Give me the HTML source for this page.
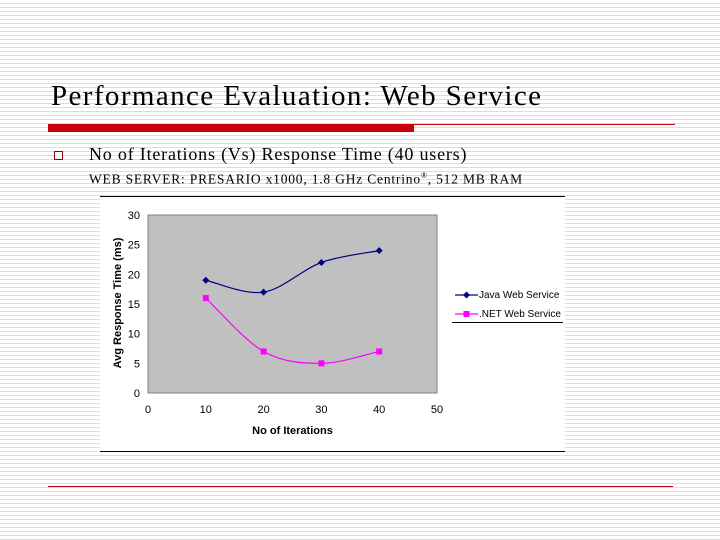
<!DOCTYPE html>
<html><head><meta charset="utf-8">
<style>
html,body{margin:0;padding:0}
body{width:720px;height:540px;position:relative;overflow:hidden;
background:repeating-linear-gradient(to bottom,#ffffff 0px,#ffffff 3px,#dcdcdc 3px,#dcdcdc 4px);
font-family:"Liberation Serif",serif;}
.abs{position:absolute}
</style></head><body>
<div class="abs" style="left:51px;top:80px;font-size:29px;letter-spacing:1.4px;color:#000;white-space:nowrap">Performance Evaluation: Web Service</div>
<div class="abs" style="left:48px;top:124px;width:366px;height:8px;background:#c8000a"></div>
<div class="abs" style="left:414px;top:124px;width:261px;height:1px;background:#c8000a"></div>
<div class="abs" style="left:54px;top:151px;width:7px;height:7px;border:1px solid #8b0000;background:#fff"></div>
<div class="abs" style="left:89px;top:144px;font-size:18px;letter-spacing:0.8px;white-space:nowrap">No of Iterations (Vs) Response Time (40 users)</div>
<div class="abs" style="left:89px;top:171px;font-size:13.5px;letter-spacing:0.8px;white-space:nowrap">WEB SERVER: PRESARIO x1000, 1.8 GHz Centrino<sup style="font-size:8px">®</sup>, 512 MB RAM</div>
<div class="abs" style="left:48px;top:486px;width:625px;height:1px;background:#c8000a"></div>

<svg class="abs" style="left:0;top:0" width="720" height="540" id="chart" font-family="Liberation Sans, sans-serif"></svg>
<script>
const categories=[10,20,30,40];
const javaValues=[19,17,22,24];
const netValues=[16,7,5,7];
const yTicks=[0,5,10,15,20,25,30];
const xTicks=[0,10,20,30,40,50];
const seriesNames=["Java Web Service",".NET Web Service"];
const NS="http://www.w3.org/2000/svg";
const svg=document.getElementById('chart');
const X0=148,X1=437,Y0=393,Y1=215;
function xs(v){return X0+(v-0)/(50-0)*(X1-X0);}
function ys(v){return Y0-(v-0)/(30-0)*(Y0-Y1);}
function mk(t,a){const e=document.createElementNS(NS,t);for(const k in a)e.setAttribute(k,a[k]);svg.appendChild(e);return e;}
let e;
e=mk('rect',{x:100,y:196,width:465,height:255,fill:'#fff'});


e=mk('line',{x1:100,y1:196.5,x2:565,y2:196.5,stroke:'#000'});


e=mk('line',{x1:100,y1:451.5,x2:565,y2:451.5,stroke:'#000'});


e=mk('rect',{x:X0,y:Y1,width:X1-X0,height:Y0-Y1,fill:'#c0c0c0',stroke:'#808080'});


yTicks.forEach(t=>{
 const el=mk('text',{x:X0-8,y:ys(t)+4,'text-anchor':'end','font-size':11,fill:'#000'});
 el.textContent=t;
 
 
});
xTicks.forEach(t=>{
 const el=mk('text',{x:xs(t),y:Y0+20,'text-anchor':'middle','font-size':11,fill:'#000'});
 el.textContent=t;
 
 
});
e=mk('text',{x:(X0+X1)/2,y:434,'text-anchor':'middle','font-size':11,'font-weight':'bold',fill:'#000'});
e.textContent='No of Iterations';


e=mk('text',{x:0,y:0,'text-anchor':'middle','font-size':11,'font-weight':'bold',fill:'#000',transform:`translate(121,${(Y0+Y1)/2-1}) rotate(-90)`});
e.textContent='Avg Response Time (ms)';


function smooth(pts){
 let d=`M${pts[0][0]},${pts[0][1]}`;
 for(let i=0;i<pts.length-1;i++){
  const p0=pts[i-1]||pts[i],p1=pts[i],p2=pts[i+1],p3=pts[i+2]||p2;
  const c1=[p1[0]+(p2[0]-p0[0])/6,p1[1]+(p2[1]-p0[1])/6];
  const c2=[p2[0]-(p3[0]-p1[0])/6,p2[1]-(p3[1]-p1[1])/6];
  d+=` C${c1[0]},${c1[1]} ${c2[0]},${c2[1]} ${p2[0]},${p2[1]}`;
 }
 return d;
}
const jp=categories.map((c,i)=>[xs(c),ys(javaValues[i])]);
const np=categories.map((c,i)=>[xs(c),ys(netValues[i])]);
e=mk('path',{d:smooth(jp),fill:'none',stroke:'#000080','stroke-width':1.2});


e=mk('path',{d:smooth(np),fill:'none',stroke:'#ff00ff','stroke-width':1.2});


jp.forEach(p=>{
 const m=mk('polygon',{points:`${p[0]},${p[1]-3.5} ${p[0]+3.5},${p[1]} ${p[0]},${p[1]+3.5} ${p[0]-3.5},${p[1]}`,fill:'#000080'});
 
 
});
np.forEach(p=>{
 const m=mk('rect',{x:p[0]-3,y:p[1]-3,width:6,height:6,fill:'#ff00ff'});
 
 
});
e=mk('line',{x1:455,y1:295,x2:478,y2:295,stroke:'#000080','stroke-width':1.2});


e=mk('polygon',{points:'466.5,291.5 470,295 466.5,298.5 463,295',fill:'#000080'});


e=mk('text',{x:479,y:298,'font-size':10,fill:'#000'});
e.textContent=seriesNames[0];


e=mk('line',{x1:455,y1:314,x2:478,y2:314,stroke:'#ff00ff','stroke-width':1.2});


e=mk('rect',{x:463.5,y:311,width:6,height:6,fill:'#ff00ff'});


e=mk('text',{x:479,y:317,'font-size':10,fill:'#000'});
e.textContent=seriesNames[1];


e=mk('line',{x1:452,y1:322.5,x2:563,y2:322.5,stroke:'#000'});


</script>
</body></html>
